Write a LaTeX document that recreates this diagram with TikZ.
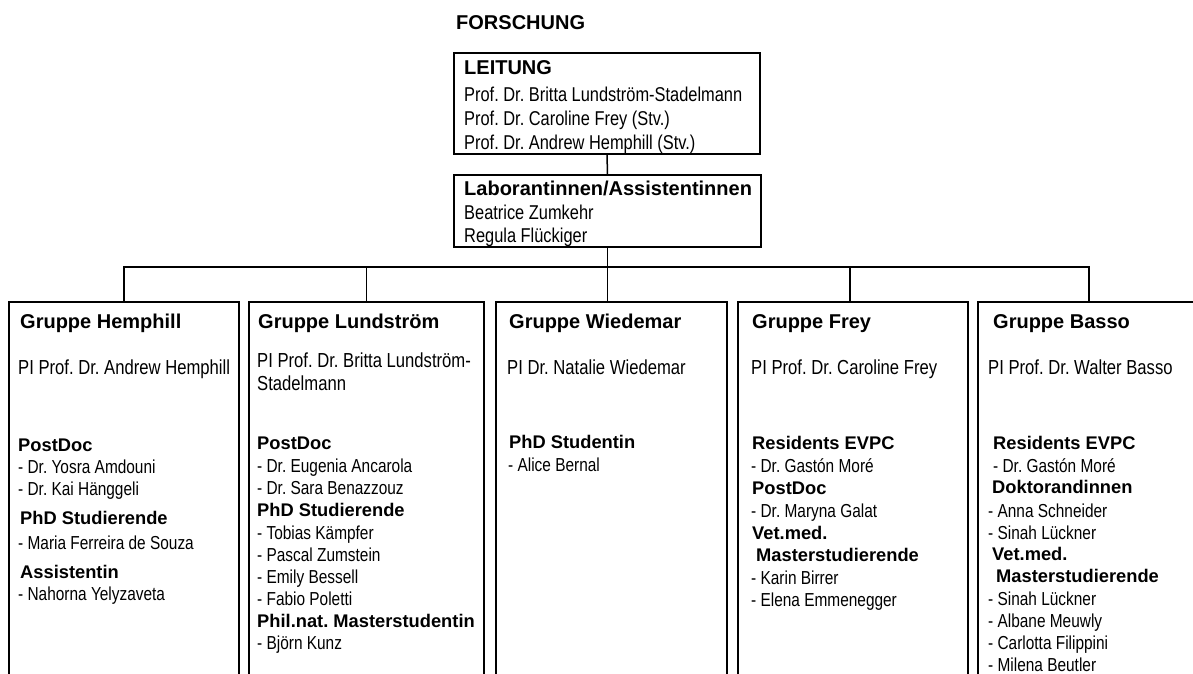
\documentclass[tikz,border=0pt]{standalone}
\usepackage{fontspec}
\setmainfont{Liberation Sans}
\newfontfamily\narrowfont[FakeStretch=0.82]{Liberation Sans}
\frenchspacing
\begin{document}
\frenchspacing
\begin{tikzpicture}[x=1pt,y=-1pt,
 box/.style={draw, line width=1.5pt, rectangle, anchor=north west, inner sep=0pt, outer sep=0pt},
 conn/.style={draw, line width=1.5pt},
 hd/.style={anchor=base west, inner sep=0pt, font=\fontsize{20}{24}\selectfont\bfseries},
 sub/.style={anchor=base west, inner sep=0pt, font=\fontsize{18.3}{22}\selectfont\bfseries},
 pi/.style={anchor=base west, inner sep=0pt, font=\narrowfont\fontsize{20.3}{24}\selectfont},
 nm/.style={anchor=base west, inner sep=0pt, font=\narrowfont\fontsize{18.8}{22}\selectfont},
 ld/.style={anchor=base west, inner sep=0pt, font=\narrowfont\fontsize{20}{24}\selectfont}]
\useasboundingbox (0,0) rectangle (1193,673);
\clip (0,0) rectangle (1193,673);

% top
\node[hd] (forschung) at (456,29) {FORSCHUNG};
\node[box, minimum width=306pt, minimum height=101pt] (leitung) at (454,53) {};
\node[hd] (leitungT) at (464,74) {LEITUNG};
\node[ld] (l1) at (464,101) {Prof. Dr. Britta Lundström-Stadelmann};
\node[ld] (l2) at (464,125) {Prof. Dr. Caroline Frey (Stv.)};
\node[ld] (l3) at (464,149) {Prof. Dr. Andrew Hemphill (Stv.)};

\node[box, minimum width=307pt, minimum height=72pt] (lab) at (454,175) {};
\node[hd] (labT) at (464,195) {Laborantinnen/Assistentinnen};
\node[ld] (lab1) at (464,219) {Beatrice Zumkehr};
\node[ld] (lab2) at (464,242) {Regula Flückiger};

% group boxes
\node[box, minimum width=230pt, minimum height=420pt] (g1) at (9,302) {};
\node[box, minimum width=235pt, minimum height=420pt] (g2) at (249,302) {};
\node[box, minimum width=231pt, minimum height=420pt] (g3) at (496,302) {};
\node[box, minimum width=230pt, minimum height=420pt] (g4) at (738,302) {};
\node[box, minimum width=222pt, minimum height=420pt] (g5) at (978,302) {};

% connectors
\coordinate (bus) at (0,267);
\coordinate (g4in) at ([xshift=-3pt]g4.north);
\draw[conn] (leitung.south) -- (lab.north);
\draw[conn] (lab.south) -- (lab.south |- g3.north);
\draw[conn] (g1.north) -- (g1.north |- bus) -- (g5.north |- bus) -- (g5.north);
\draw[conn] (g2.north) -- (g2.north |- bus);
\draw[conn] (g4in) -- (g4in |- bus);

% Gruppe Hemphill
\node[hd] (g1t) at (20,328) {Gruppe Hemphill};
\node[pi] (g1p) at (18,374) {PI Prof. Dr. Andrew Hemphill};
\node[sub] (g1a) at (18,451) {PostDoc};
\node[nm] (g1a1) at (18,473) {- Dr. Yosra Amdouni};
\node[nm] (g1a2) at (18,495) {- Dr. Kai Hänggeli};
\node[sub] (g1b) at (20,524) {PhD Studierende};
\node[nm] (g1b1) at (18,549) {- Maria Ferreira de Souza};
\node[sub] (g1c) at (20,578) {Assistentin};
\node[nm] (g1c1) at (18,600) {- Nahorna Yelyzaveta};

% Gruppe Lundström
\node[hd] (g2t) at (258,328) {Gruppe Lundström};
\node[pi] (g2p) at (257,367) {PI Prof. Dr. Britta Lundström-};
\node[pi] (g2p2) at (257,390) {Stadelmann};
\node[sub] (g2a) at (257,449) {PostDoc};
\node[nm] (g2a1) at (257,472) {- Dr. Eugenia Ancarola};
\node[nm] (g2a2) at (257,494) {- Dr. Sara Benazzouz};
\node[sub] (g2b) at (257,516) {PhD Studierende};
\node[nm] (g2b1) at (257,539) {- Tobias Kämpfer};
\node[nm] (g2b2) at (257,561) {- Pascal Zumstein};
\node[nm] (g2b3) at (257,583) {- Emily Bessell};
\node[nm] (g2b4) at (257,605) {- Fabio Poletti};
\node[sub] (g2c) at (257,627) {Phil.nat. Masterstudentin};
\node[nm] (g2c1) at (257,649) {- Björn Kunz};

% Gruppe Wiedemar
\node[hd] (g3t) at (509,328) {Gruppe Wiedemar};
\node[pi] (g3p) at (507,374) {PI Dr. Natalie Wiedemar};
\node[sub] (g3a) at (509,448) {PhD Studentin};
\node[nm] (g3a1) at (508,471) {- Alice Bernal};

% Gruppe Frey
\node[hd] (g4t) at (752,328) {Gruppe Frey};
\node[pi] (g4p) at (751,374) {PI Prof. Dr. Caroline Frey};
\node[sub] (g4a) at (752,449) {Residents EVPC};
\node[nm] (g4a1) at (751,472) {- Dr. Gastón Moré};
\node[sub] (g4b) at (752,494) {PostDoc};
\node[nm] (g4b1) at (751,517) {- Dr. Maryna Galat};
\node[sub] (g4c) at (752,539) {Vet.med.};
\node[sub] (g4c0) at (756,561) {Masterstudierende};
\node[nm] (g4c1) at (751,584) {- Karin Birrer};
\node[nm] (g4c2) at (751,606) {- Elena Emmenegger};

% Gruppe Basso
\node[hd] (g5t) at (993,328) {Gruppe Basso};
\node[pi] (g5p) at (988,374) {PI Prof. Dr. Walter Basso};
\node[sub] (g5a) at (993,449) {Residents EVPC};
\node[nm] (g5a1) at (993,472) {- Dr. Gastón Moré};
\node[sub] (g5b) at (992,493) {Doktorandinnen};
\node[nm] (g5b1) at (988,517) {- Anna Schneider};
\node[nm] (g5b2) at (988,539) {- Sinah Lückner};
\node[sub] (g5c) at (992,560) {Vet.med.};
\node[sub] (g5c0) at (996,582) {Masterstudierende};
\node[nm] (g5c1) at (988,605) {- Sinah Lückner};
\node[nm] (g5c2) at (988,627) {- Albane Meuwly};
\node[nm] (g5c3) at (988,649) {- Carlotta Filippini};
\node[nm] (g5c4) at (988,671) {- Milena Beutler};
\end{tikzpicture}
\end{document}
